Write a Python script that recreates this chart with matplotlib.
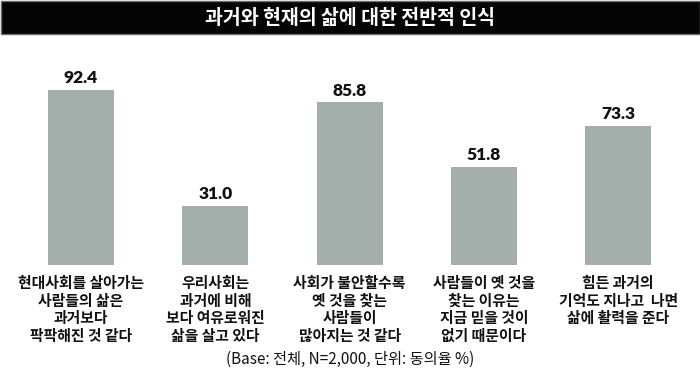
import matplotlib.pyplot as plt
from matplotlib.patches import Rectangle

plt.rcParams['font.family'] = ['Noto Sans CJK KR', 'DejaVu Sans']

title = "과거와 현재의 삶에 대한 전반적 인식"
labels = [
    "현대사회를 살아가는\n사람들의 삶은\n과거보다\n팍팍해진 것 같다",
    "우리사회는\n과거에 비해\n보다 여유로워진\n삶을 살고 있다",
    "사회가 불안할수록\n옛 것을 찾는\n사람들이\n많아지는 것 같다",
    "사람들이 옛 것을\n찾는 이유는\n지금 믿을 것이\n없기 때문이다",
    "힘든 과거의\n기억도 지나고  나면\n삶에 활력을 준다",
]
values = [92.4, 31.0, 85.8, 51.8, 73.3]
footer = "(Base: 전체, N=2,000, 단위: 동의율 %)"

fig = plt.figure(figsize=(7, 3.82), dpi=100)

# title bar
bar_ax = fig.add_axes([0, 0, 1, 1], zorder=0)
bar_ax.set_axis_off()
bar_ax.set_xlim(0, 700)
bar_ax.set_ylim(382, 0)
bar_ax.add_patch(Rectangle((0.5, 0.5), 699, 33.5, facecolor='#050505',
                           edgecolor='#6a6a6a', lw=1))
bar_ax.text(350, 18, title, color='white', fontsize=14, fontweight='bold',
            ha='center', va='center')

ax = fig.add_axes([0, 1 - 265 / 382, 1, 189.4 / 382], zorder=1)
ax.patch.set_alpha(0)
x = range(len(values))
ax.bar(x, values, width=0.49, color='#a4afac')
ax.set_xlim(-0.603, 4.609)
ax.set_ylim(0, 100)
ax.set_axis_off()

for i, v in enumerate(values):
    ax.text(i, v + 2.0, f"{v:.1f}", ha='center', va='bottom', fontsize=12.5,
            fontweight='heavy', family=['Lato', 'DejaVu Sans'], color='#111111')
    ax.annotate(labels[i], xy=(i, 0), xytext=(0, -7.5), textcoords='offset points',
                ha='center', va='top', fontsize=10.7, fontweight='bold',
                linespacing=1.11, color='#111111')

fig.text(0.5, 1 - 359 / 382, footer, ha='center', va='center', fontsize=11,
         color='#111111')

fig.savefig('out.png', dpi=100)
